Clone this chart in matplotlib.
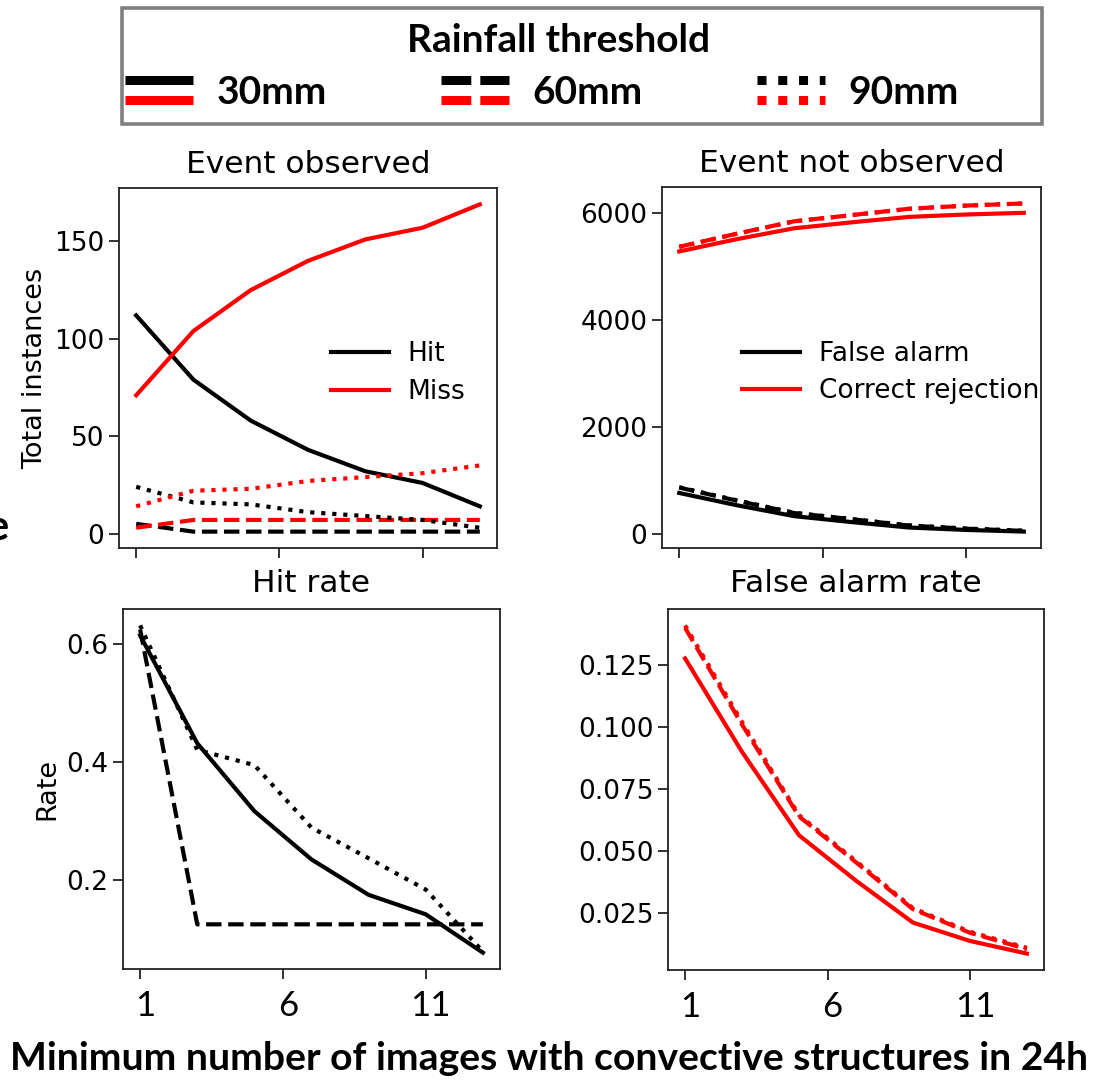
import matplotlib
matplotlib.use("Agg")
import matplotlib.pyplot as plt
from matplotlib.lines import Line2D
from matplotlib.patches import Rectangle
from matplotlib.legend_handler import HandlerBase
from matplotlib.transforms import ScaledTranslation

plt.rcParams["font.family"] = "DejaVu Sans"

# minimum number of images with convective structures
x = [1, 3, 5, 7, 9, 11, 13]

# event observed (counts)
hit_30 = [112, 79, 58, 43, 32, 26, 14]
miss_30 = [71, 104, 125, 140, 151, 157, 169]
hit_60 = [5, 1, 1, 1, 1, 1, 1]
miss_60 = [3, 7, 7, 7, 7, 7, 7]
hit_90 = [24, 16, 15, 11, 9, 7, 3]
miss_90 = [14, 22, 23, 27, 29, 31, 35]

# event not observed (counts)
fa_30 = [775, 546, 342, 231, 129, 84, 53]
cr_30 = [5290, 5519, 5723, 5834, 5936, 5981, 6012]
fa_60 = [876, 632, 400, 285, 166, 107, 66]
cr_60 = [5378, 5622, 5854, 5969, 6088, 6147, 6188]
fa_90 = [882, 638, 404, 288, 169, 109, 69]
cr_90 = [5374, 5618, 5852, 5968, 6087, 6147, 6187]

# rates
hitrate_30 = [0.615, 0.432, 0.317, 0.235, 0.175, 0.142, 0.077]
hitrate_60 = [0.625, 0.125, 0.125, 0.125, 0.125, 0.125, 0.125]
hitrate_90 = [0.632, 0.421, 0.395, 0.289, 0.237, 0.184, 0.079]
farate_30 = [0.1277, 0.090, 0.0564, 0.0381, 0.0212, 0.0138, 0.0087]
farate_60 = [0.140, 0.101, 0.064, 0.0455, 0.0266, 0.0171, 0.0105]
farate_90 = [0.141, 0.102, 0.0645, 0.046, 0.027, 0.0175, 0.011]

thresholds = ["30mm", "60mm", "90mm"]
styles = ["-", "--", ":"]

W, H = 1093, 1083
fig = plt.figure(figsize=(W / 100, H / 100), dpi=100)


def box(l, t, r, b):
    return [l / W, 1 - b / H, (r - l) / W, (b - t) / H]


ax1 = fig.add_axes(box(119, 188, 497, 548))
ax2 = fig.add_axes(box(662, 187, 1041, 548))
ax3 = fig.add_axes(box(123, 609, 500, 969))
ax4 = fig.add_axes(box(668, 609, 1044, 970))

LW = 3.0
hits = [hit_30, hit_60, hit_90]
misses = [miss_30, miss_60, miss_90]
fas = [fa_30, fa_60, fa_90]
crs = [cr_30, cr_60, cr_90]
hrs = [hitrate_30, hitrate_60, hitrate_90]
frs = [farate_30, farate_60, farate_90]

for i in range(3):
    ax1.plot(x, hits[i], color="black", ls=styles[i], lw=LW, label="Hit" if i == 0 else None)
    ax1.plot(x, misses[i], color="red", ls=styles[i], lw=LW, label="Miss" if i == 0 else None)
    ax2.plot(x, fas[i], color="black", ls=styles[i], lw=LW, label="False alarm" if i == 0 else None)
    ax2.plot(x, crs[i], color="red", ls=styles[i], lw=LW, label="Correct rejection" if i == 0 else None)
    ax3.plot(x, hrs[i], color="black", ls=styles[i], lw=LW)
    ax4.plot(x, frs[i], color="red", ls=styles[i], lw=LW)

ax1.set_title("Event observed", fontsize=22.5, pad=11)
ax2.set_title("Event not observed", fontsize=22.5, pad=11)
ax3.set_title("Hit rate", fontsize=22.5, pad=12)
ax4.set_title("False alarm rate", fontsize=22.5, pad=12)
ax1.set_ylabel("Total instances", fontsize=19.5)
ax3.set_ylabel("Rate", fontsize=19.5)

ax1.set_yticks([0, 50, 100, 150])
ax2.set_yticks([0, 2000, 4000, 6000])
ax3.set_yticks([0.2, 0.4, 0.6])
ax4.set_yticks([0.025, 0.05, 0.075, 0.1, 0.125])
ax4.set_yticklabels(["0.025", "0.050", "0.075", "0.100", "0.125"])

for ax in (ax1, ax2, ax3, ax4):
    ax.set_xticks([1, 6, 11])
    ax.tick_params(labelsize=19, length=7, width=1.3, color="#222222")
    for s in ax.spines.values():
        s.set_linewidth(1.3)
        s.set_color("#222222")

for ax in (ax1, ax2):
    ax.tick_params(axis="x", labelbottom=False)

for ax in (ax3, ax4):
    ax.set_xticklabels(["1", "6", "11"], fontfamily="Lato", fontsize=25)
    ax.tick_params(axis="x", pad=8)
    for lab in ax.get_xticklabels():
        lab.set_transform(lab.get_transform() + ScaledTranslation(0.05, 0, fig.dpi_scale_trans))

ax1.legend(loc="center left", bbox_to_anchor=(0.498, 0.486), frameon=False,
           fontsize=19, handlelength=2.18, handletextpad=0.72, labelspacing=0.44)
ax2.legend(loc="center left", bbox_to_anchor=(0.149, 0.486), frameon=False,
           fontsize=19, handlelength=2.18, handletextpad=0.72, labelspacing=0.44)


# legend for rainfall thresholds: black + red line pair per style
class PairHandler(HandlerBase):
    def create_artists(self, legend, orig_handle, xdescent, ydescent,
                       width, height, fontsize, trans):
        yc = height / 2 - ydescent
        out = []
        for dy, col in [(7.2, "black"), (-7.2, "red")]:
            ln = Line2D([-xdescent, width - xdescent], [yc + dy, yc + dy])
            ln.update_from(orig_handle)
            ln.set_color(col)
            ln.set_transform(trans)
            out.append(ln)
        return out


fig.patches.append(Rectangle((122 / W, 1 - 124 / H), 920 / W, 116 / H,
                             transform=fig.transFigure, facecolor="white",
                             edgecolor="#808080", lw=2.6, zorder=0))

leg_styles = ["-", (0, (3.3, 1.0)), (0, (1, 1.3))]
handles = [Line2D([], [], ls=s, lw=6.5, solid_capstyle="butt", dash_capstyle="butt")
           for s in leg_styles]
bold = {"family": "Lato", "weight": "bold", "size": 28}
fig.legend(handles, thresholds, ncol=3, loc="center",
           bbox_to_anchor=(542 / W, 1 - 92 / H), frameon=False, prop=bold,
           handler_map={Line2D: PairHandler()}, handlelength=1.74,
           handletextpad=0.6, columnspacing=2.95, borderpad=0)
fig.text(559 / W, 1 - 41 / H, "Rainfall threshold", ha="center", va="center",
         fontfamily="Lato", fontweight="bold", fontsize=28)

fig.text(549 / W, 1 - 1058 / H, "Minimum number of images with convective structures in 24h",
         ha="center", va="center", fontfamily="Lato", fontweight="bold", fontsize=28.2)

# cropped letter from neighbouring panel
fig.text(9 / W, 1 - 540 / H, "e", ha="right", va="baseline",
         fontfamily="Lato", fontweight="bold", fontsize=30)

fig.savefig("out.png", dpi=100)
